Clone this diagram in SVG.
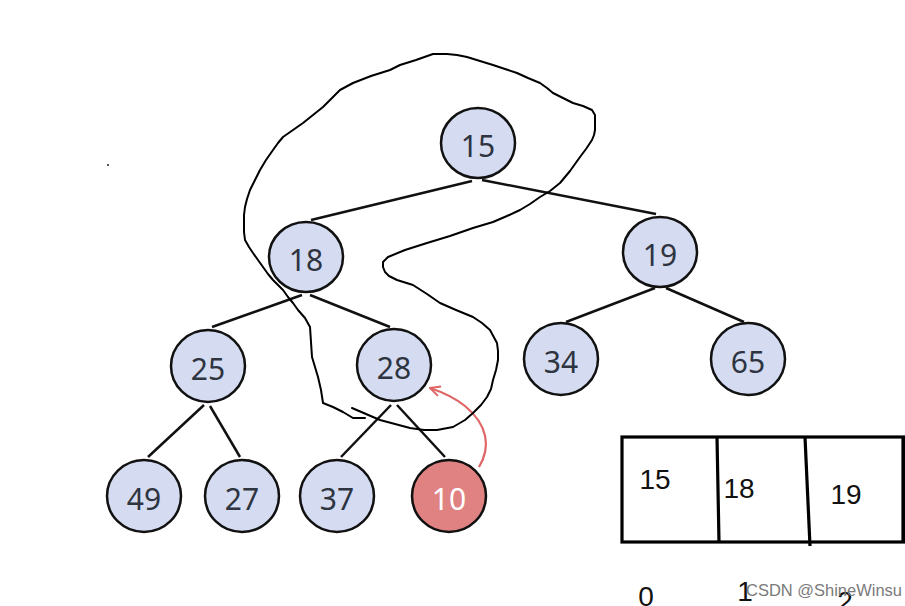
<svg xmlns="http://www.w3.org/2000/svg" width="905" height="606" viewBox="0 0 905 606">
<defs>
<style>
.node ellipse{fill:#d5dbf1;stroke:#111;stroke-width:2.5}
.node text{font-family:"Noto Sans","Open Sans",sans-serif;font-size:30px;fill:#2e3440;text-anchor:middle}
.hot ellipse{fill:#e08282}
.hot text{fill:#ffffff}
.edge{stroke:#111;stroke-width:2.5;fill:none}
.arr text{font-family:"Liberation Sans",Arial,sans-serif;font-size:28px;fill:#111;text-anchor:middle}
</style>
<marker id="ah" viewBox="0 0 12 12" refX="11" refY="6" markerWidth="12" markerHeight="12" markerUnits="userSpaceOnUse" orient="auto">
<path d="M1,1 L11,6 L1,11" fill="none" stroke="#e06666" stroke-width="2"/>
</marker>
</defs>
<rect width="905" height="606" fill="#ffffff"/>
<rect x="107" y="164" width="2" height="2" fill="#555"/>

<g id="connectors">
<line class="edge" x1="472" y1="181" x2="311" y2="220"/>
<line class="edge" x1="482" y1="180" x2="656" y2="214"/>
<line class="edge" x1="302" y1="295" x2="212" y2="327"/>
<line class="edge" x1="310" y1="295" x2="390" y2="327"/>
<line class="edge" x1="655" y1="288" x2="566" y2="322"/>
<line class="edge" x1="666" y1="288" x2="744" y2="322"/>
<line class="edge" x1="204" y1="405" x2="148" y2="457"/>
<line class="edge" x1="210" y1="406" x2="240" y2="457"/>
<line class="edge" x1="391" y1="405" x2="341" y2="457"/>
<line class="edge" x1="397" y1="405" x2="445" y2="457"/>
<path d="M479,467 C491,447 488,425 465,406 C455,398 442,392 430,388" fill="none" stroke="#e06666" stroke-width="2.2" marker-end="url(#ah)"/>
</g>

<g id="n15" class="node"><ellipse cx="478" cy="143" rx="37" ry="35"/><text x="478" y="157">15</text></g>
<g id="n18" class="node"><ellipse cx="306" cy="257" rx="37" ry="35"/><text x="306" y="271">18</text></g>
<g id="n19" class="node"><ellipse cx="660" cy="252" rx="37" ry="35"/><text x="660" y="266">19</text></g>
<g id="n25" class="node"><ellipse cx="208" cy="366" rx="37" ry="36"/><text x="208" y="380">25</text></g>
<g id="n28" class="node"><ellipse cx="394" cy="365" rx="37" ry="36"/><text x="394" y="379">28</text></g>
<g id="n34" class="node"><ellipse cx="561" cy="359" rx="37" ry="36"/><text x="561" y="373">34</text></g>
<g id="n65" class="node"><ellipse cx="748" cy="359" rx="37" ry="36"/><text x="748" y="373">65</text></g>
<g id="n49" class="node"><ellipse cx="144" cy="496" rx="37" ry="36"/><text x="144" y="510">49</text></g>
<g id="n27" class="node"><ellipse cx="242" cy="496" rx="37" ry="36"/><text x="242" y="510">27</text></g>
<g id="n37" class="node"><ellipse cx="337" cy="496" rx="37" ry="36"/><text x="337" y="510">37</text></g>
<g id="n10" class="node hot"><ellipse cx="449" cy="496" rx="37" ry="36"/><text x="449" y="510">10</text></g>

<g id="loop" fill="none" stroke="#000" stroke-width="2" stroke-linejoin="round" stroke-linecap="round">
<polyline points="352,408 366,414 380,420 395,424 410,428 424,430 437,430 453,427 465,420 473,413 481,405 487,397 491,389 493,380 496,370 498,360 498,351 497,343 490,330 482,323 473,317 456,310 440,303 427,294 413,285 397,280 389,276 385,272 383,267 383,262 388,257 405,250 427,243 450,236 473,228 493,222 507,216 520,210 530,204 540,197 550,191 560,183 570,171 580,157 586,149 592,140 594,135 595,130 595,122 595,115 592,110 583,106 573,103 563,98 553,93 547,88 540,83 528,78 517,73 505,69 493,65 480,61 467,57 457,55 447,54 440,54 433,54 416,60 400,65 390,70 371,76 353,83 340,90 331,99 323,107 313,115 303,123 293,130 283,137 278,143 273,150 266,160 260,170 255,180 250,190 247,199 245,207 244,215 244,223 244,232 245,240 249,247 253,253 258,260 263,267 268,274 273,280 278,285 283,290 288,297 293,303 298,310 305,318 310,327 311,342 312,357 315,367 318,377 321,390 323,403 333,407 343,412 353,418 365,418"/>
</g>

<g id="array" class="arr">
<rect x="622" y="437" width="283" height="105" fill="none" stroke="#000" stroke-width="3.2"/>
<line x1="717" y1="437" x2="719" y2="542" stroke="#000" stroke-width="3.2"/>
<line x1="805" y1="437" x2="810" y2="546" stroke="#000" stroke-width="3.2"/>
<line x1="903" y1="437" x2="903" y2="542" stroke="#000" stroke-width="3.2"/>
<text x="655" y="489">15</text>
<text x="739" y="498">18</text>
<text x="846" y="504">19</text>
<text x="646" y="606">0</text>
<text x="745" y="601">1</text>
<text x="845" y="611">2</text>
</g>
<text x="746" y="596" font-family="'Liberation Sans',Arial,sans-serif" font-size="17" fill="#7a7a7a" textLength="156" lengthAdjust="spacingAndGlyphs">CSDN @ShineWinsu</text>
</svg>
